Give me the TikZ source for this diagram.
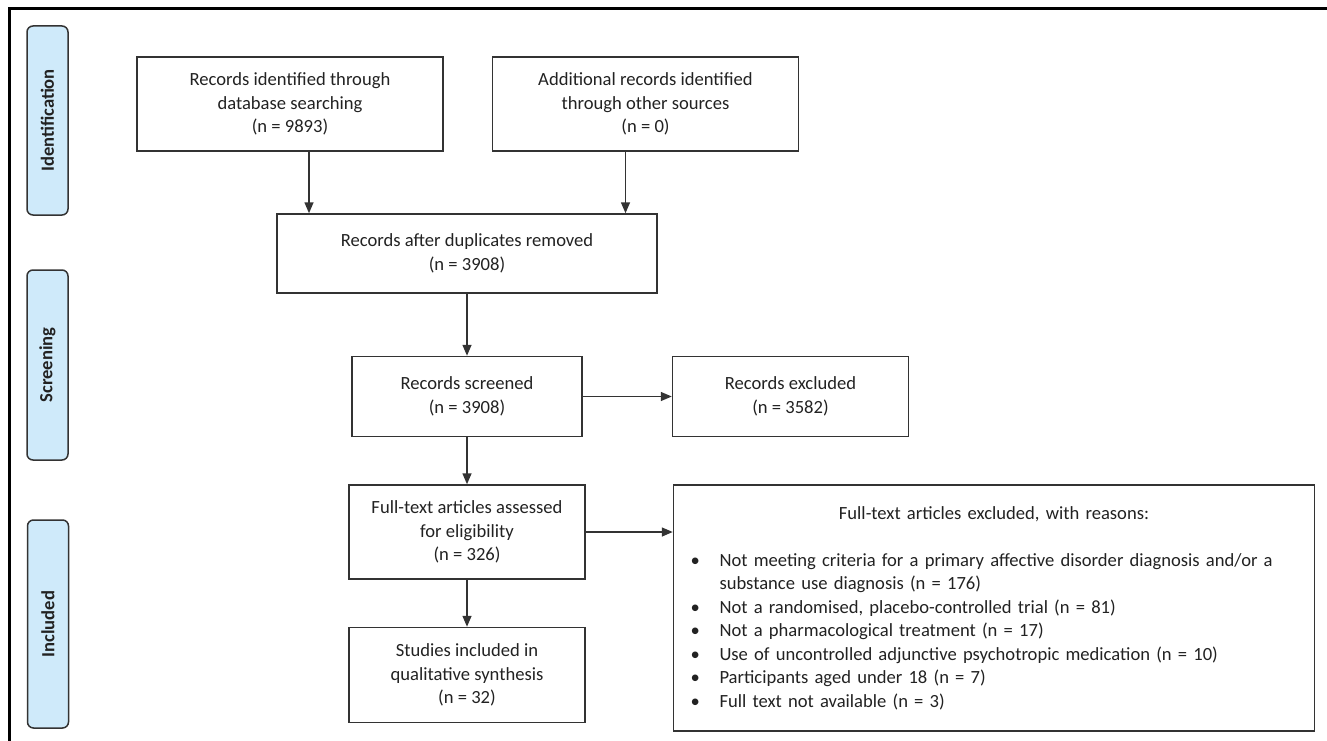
\documentclass[tikz,border=0pt]{standalone}
\usepackage{fontspec}
\setmainfont{Carlito}
\usetikzlibrary{arrows.meta,positioning}
\definecolor{PhaseBlue}{HTML}{CFEAFA}
\definecolor{LineGray}{HTML}{333333}
\definecolor{TextGray}{HTML}{222222}
\newcommand{\flowfont}{\fontsize{18.6}{23.5}\selectfont}
\newcommand{\reason}[1]{\par\hangindent=30pt\hangafter=1\noindent\makebox[30pt][l]{\hspace{1pt}\textbullet}#1}

\begin{document}
\begin{tikzpicture}[x=1pt, y=-1pt, every node/.style={font=\flowfont, text=TextGray},
  box/.style={draw=LineGray, line width=1.5pt, align=center, inner sep=0pt},
  phase/.style={draw=LineGray, line width=1.5pt, fill=PhaseBlue, rounded corners=6pt, rotate=90, font=\flowfont\bfseries, inner sep=0pt, minimum height=41pt},
  arr/.style={draw=LineGray, line width=1.5pt, -{Triangle[length=11pt,width=9pt]}}]
\useasboundingbox (0,0) rectangle (1327,741);
\draw[line width=3pt] (9.5,741) -- (9.5,8.5) -- (1327,8.5);
\node[phase, minimum width=189pt] (ident) at (47.5,120.5) {Identification};
\node[phase, minimum width=190pt] (screenphase) at (47.5,365) {Screening};
\node[phase, minimum width=208pt] (incl) at (48,624) {Included};
\node[box, minimum width=306pt, minimum height=94pt] (recA) at (290,104) {Records identified through\\database searching\\(n = 9893)};
\node[box, minimum width=306pt, minimum height=94pt, right=48pt of recA] (recB) {Additional records identified\\through other sources\\(n = 0)};
\node[box, minimum width=380pt, minimum height=79pt] (dedup) at (467,253.5) {Records after duplicates removed\\(n = 3908)};
\node[box, minimum width=230pt, minimum height=80pt, below=62pt of dedup] (screened) {Records screened\\(n = 3908)};
\node[box, minimum width=236pt, minimum height=80pt, right=89pt of screened] (excl) {Records excluded\\(n = 3582)};
\node[box, minimum width=236pt, minimum height=94pt, below=47pt of screened] (fulltext) {Full-text articles assessed\\for eligibility\\(n = 326)};
\node[box, minimum width=236pt, minimum height=95pt, below=47pt of fulltext] (studies) {Studies included in\\qualitative synthesis\\(n = 32)};
\node[box, minimum width=641pt, minimum height=246pt, right=87pt of fulltext.north east, anchor=north west, text width=609pt, align=left] (reasons) {%
  {\centering Full-text articles excluded, with reasons:\par}
  \vspace{23.5pt}
  \reason{Not meeting criteria for a primary affective disorder diagnosis and/or a\newline substance use diagnosis (n = 176)}
  \reason{Not a randomised, placebo-controlled trial (n = 81)}
  \reason{Not a pharmacological treatment (n = 17)}
  \reason{Use of uncontrolled adjunctive psychotropic medication (n = 10)}
  \reason{Participants aged under 18 (n = 7)}
  \reason{Full text not available (n = 3)}};
\draw[arr] ([xshift=19pt]recA.south) -- ([xshift=19pt]recA.south |- dedup.north);
\draw[arr] ([xshift=-20pt]recB.south) -- ([xshift=-20pt]recB.south |- dedup.north);
\draw[arr] (dedup) -- (screened);
\draw[arr] (screened) -- (excl);
\draw[arr] (screened) -- (fulltext);
\draw[arr] (fulltext) -- (studies);
\draw[arr] (fulltext.east) -- (fulltext.east -| reasons.west);
\end{tikzpicture}
\end{document}
